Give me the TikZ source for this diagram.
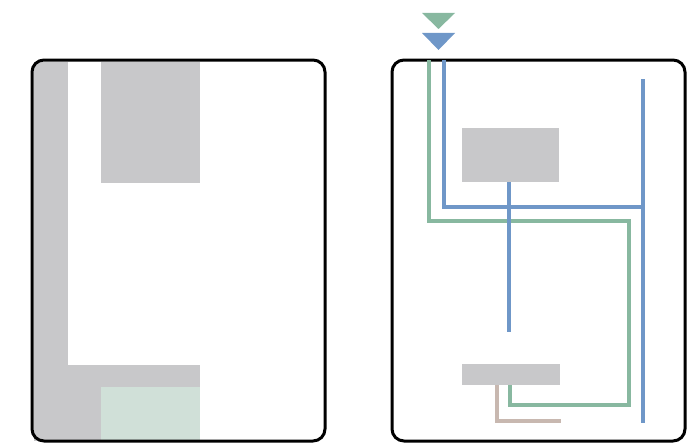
\documentclass[tikz,border=0pt]{standalone}
\definecolor{fillgray}{HTML}{C8C8CA}
\definecolor{palegreen}{HTML}{D0E0D8}
\definecolor{pipeblue}{HTML}{6F97C8}
\definecolor{pipegreen}{HTML}{88B8A0}
\definecolor{pipebrown}{HTML}{C8B8B0}
\tikzset{
  frame/.style={draw=black, line width=3pt, rounded corners=12pt, inner sep=0pt,
    minimum width=293pt, minimum height=381pt},
  pipe/.style={line width=4.5pt, line join=miter, line cap=butt},
  unit/.style={fill=fillgray, draw=none, inner sep=0pt, outer sep=0pt}
}
\begin{document}
\begin{tikzpicture}[x=1pt, y=-1pt]
  \useasboundingbox (0,0) rectangle (700,444);

  % ---- left enclosure: fills ----
  \fill[fillgray] (34,62) rectangle (68,441);
  \fill[fillgray] (68,365) rectangle (101,441);
  \fill[fillgray] (101,62) rectangle (200,183);
  \fill[fillgray] (101,365) rectangle (200,387);
  \fill[palegreen] (101,387) rectangle (200,441);
  \node[frame] (leftbox) at (178.5,250.5) {};

  % ---- right enclosure ----
  \node[frame] (rightbox) at (538.5,250.5) {};
  \node[unit, minimum width=97pt, minimum height=54pt] (upper) at (510.5,155) {};
  \node[unit, minimum width=98pt, minimum height=21pt] (lower) at (511,374.5) {};

  % feed markers above the enclosure
  \fill[pipegreen] (422,13) -- (455,13) -- (438.5,29) -- cycle;
  \fill[pipeblue] (422,33) -- (455,33) -- (438.5,50) -- cycle;

  \coordinate (gin) at (429,60);
  \coordinate (bin) at (444,60);
  \coordinate (gturn) at (429,221);
  \coordinate (bturn) at (444,207);
  \coordinate (gright) at (629,221);
  \coordinate (gbottom) at (629,405);
  \coordinate (gleft) at (510,405);
  \coordinate (glow) at (510,385);
  \coordinate (btee) at (643,207);
  \coordinate (rtop) at (643,79);
  \coordinate (rbot) at (643,423);
  \coordinate (brtop) at (497,385);
  \coordinate (brcorner) at (497,421);
  \coordinate (brend) at (561,421);
  \coordinate (mtop) at (509,182);
  \coordinate (mbot) at (509,332);

  % green loop
  \draw[pipe, pipegreen] (gin) -- (gturn) -- (gright) -- (gbottom) -- (gleft) -- (glow);

  % brown return
  \draw[pipe, pipebrown] (brtop) -- (brcorner) -- (brend);

  % blue lines
  \draw[pipe, pipeblue] (bin) -- (bturn) -- (btee);
  \draw[pipe, pipeblue] (rtop) -- (rbot);
  \draw[pipe, pipeblue] (mtop) -- (mbot);
\end{tikzpicture}
\end{document}
